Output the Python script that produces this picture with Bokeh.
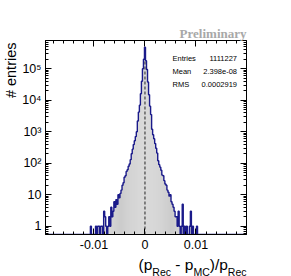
import numpy as np
from bokeh.plotting import figure
from bokeh.models import Range1d, LinearAxis, LogAxis, FixedTicker, Label, Title
from bokeh.layouts import row, column
from bokeh.embed import file_html
from bokeh.resources import INLINE

# ---------------- data ----------------
bin_lo = -0.0111          # lower edge of first bin
bin_width = 0.0002
counts = [
    # -0.0110 ... -0.0002
    0, 0, 1, 0, 0, 0, 0, 1, 0, 1,
    1, 0, 1, 1, 0, 3, 2, 1, 0, 1,
    2, 1, 4, 2, 3, 6, 4, 7, 5, 10,
    8, 11, 14, 20, 24, 36, 40, 55, 62, 80,
    95, 130, 200, 280, 390, 520, 700, 1000, 2200, 4200,
    7000, 16000, 40000, 100000, 200000,
    # 0
    480000,
    # 0.0002 ... 0.0104
    180000, 95000, 38000, 15000, 6500, 3500, 1200, 800, 600, 420,
    300, 210, 120, 90, 75, 60, 42, 40, 28, 22,
    20, 14, 12, 9, 10, 6, 5, 4, 3, 2,
    2, 1, 3, 1, 0, 1, 5, 0, 1, 0,
    1, 0, 0, 1, 3, 0, 1, 0, 0, 0,
    1, 0,
]
stats_names = ["Entries", "Mean", "RMS"]
stats_values = ["1111227", "2.398e-08", "0.0002919"]
x_major = [-0.01, 0, 0.01]
x_major_labels = ["-0.01", "0", "0.01"]
y_major = [1, 10, 100, 1000, 10000, 100000]
y_major_labels = ["1", "10", "10\u00b2", "10\u00b3", "10\u2074", "10\u2075"]
y_title = "# entries"
x_title_parts = [("(p", False), ("Rec", True), (" - p", False), ("MC", True), (")/p", False), ("Rec", True)]
mean_line_x = 0.0

# ---------------- layout constants ----------------
XMIN, XMAX = -0.0195, 0.0199
YMIN, YMAX = 0.545, 7.9e5
FONT = "Liberation Sans"
LINE_COL = "#1a1a8a"
FILL_COL = "#cccccc"
W_TOTAL, H_TOTAL = 291, 276
YT_W = 19          # width of y-title strip
XT_H = 22          # height of x-title strip
FL, FT, FR, FB = 43, 40, 246, 234   # frame edges in page pixels


def blank(w, h):
    f = figure(width=w, height=h, x_range=Range1d(0, 1), y_range=Range1d(0, 1),
               x_axis_location=None, y_axis_location=None, output_backend="svg",
               toolbar_location=None, min_border=0)
    f.xgrid.visible = False
    f.ygrid.visible = False
    f.outline_line_color = None
    f.background_fill_color = "white"
    f.border_fill_color = "white"
    return f


MAIN_W = W_TOTAL - YT_W
MAIN_H = H_TOTAL - XT_H
p = figure(width=MAIN_W, height=MAIN_H, x_range=Range1d(XMIN, XMAX), y_range=Range1d(YMIN, YMAX),
           y_axis_type="log", output_backend="svg", toolbar_location=None,
           min_border_left=FL - YT_W, min_border_right=W_TOTAL - FR,
           min_border_top=FT, min_border_bottom=MAIN_H - FB)
p.xgrid.visible = False
p.ygrid.visible = False
p.outline_line_color = "black"
p.outline_line_width = 1
p.background_fill_color = "white"
p.border_fill_color = "white"

# histogram
c = np.array(counts, dtype=float)
lefts = bin_lo + bin_width * np.arange(len(c))
rights = lefts + bin_width
tops = np.where(c > 0, c, YMIN)
p.quad(left=lefts, right=rights, bottom=YMIN, top=tops, fill_color=FILL_COL, line_color=None)

# mean dashed line
p.line([mean_line_x, mean_line_x], [YMIN, c.max()], line_color="#222222", line_width=1, line_dash="3 2")

# outline (step)
xs = np.concatenate([[XMIN, lefts[0]], np.ravel(np.column_stack([lefts, rights])), [rights[-1], XMAX]])
ys = np.concatenate([[YMIN, YMIN], np.repeat(tops, 2), [YMIN, YMIN]])
p.line(xs, ys, line_color=LINE_COL, line_width=1.4)

# axes
x_minor = [round(v, 4) for v in np.arange(-0.018, 0.0181, 0.002)]
y_minor = [m * 10.0 ** e for e in range(-1, 6) for m in range(2, 10)]
xt = FixedTicker(ticks=x_major, minor_ticks=x_minor)
yt = FixedTicker(ticks=y_major, minor_ticks=y_minor)


def style(ax, labels=True, tick=6, minor=3):
    ax.major_tick_in = tick
    ax.major_tick_out = 0
    ax.minor_tick_in = minor
    ax.minor_tick_out = 0
    ax.axis_line_color = "black"
    ax.major_tick_line_color = "black"
    ax.minor_tick_line_color = "black"
    if labels:
        ax.major_label_text_font = FONT
        ax.major_label_text_font_size = "12.5px"
        ax.major_label_text_color = "black"
    else:
        ax.major_label_text_font_size = "0px"
        ax.major_label_text_color = None
        ax.major_label_standoff = 0


xa = p.xaxis[0]
xa.ticker = xt
xa.major_label_overrides = {v: s for v, s in zip(x_major, x_major_labels)}
xa.major_label_standoff = 5
style(xa)

ya = p.yaxis[0]
ya.ticker = yt
ya.major_label_overrides = {v: s for v, s in zip(y_major, y_major_labels)}
ya.major_label_standoff = 4
style(ya)

top_ax = LinearAxis(ticker=xt)
style(top_ax, labels=False)
p.add_layout(top_ax, "above")
right_ax = LogAxis(ticker=yt)
style(right_ax, labels=False)
p.add_layout(right_ax, "right")

# "Preliminary" as a title above the frame, right aligned
p.title = Title(text="Preliminary", align="right", text_font="Liberation Serif",
                text_font_style="bold", text_font_size="13px", text_color="#a8a8a8",
                standoff=0, offset=0)

# stats (inside frame; screen units are frame-relative)
for i, (n, v) in enumerate(zip(stats_names, stats_values)):
    yb = 57.5 + 13 * i
    p.add_layout(Label(x=170 - FL, y=FB - yb, x_units="screen", y_units="screen", text=n,
                       text_align="left", text_baseline="alphabetic", text_font=FONT,
                       text_font_size="7.5px", text_color="black"))
    p.add_layout(Label(x=234.5 - FL, y=FB - yb, x_units="screen", y_units="screen", text=v,
                       text_align="right", text_baseline="alphabetic", text_font=FONT,
                       text_font_size="7.5px", text_color="black"))

# y title strip
yfig = blank(YT_W, H_TOTAL)
yfig.add_layout(Label(x=10.5, y=H_TOTAL - 42, x_units="screen", y_units="screen", text=y_title,
                      angle=np.pi / 2, text_align="right", text_baseline="middle",
                      text_font=FONT, text_font_size="14.5px", text_color="black"))

# x title strip with subscripts
xfig = blank(MAIN_W, XT_H)
try:
    xfig.frame_align = False
    p.frame_align = False
    x_origin = YT_W
except AttributeError:
    x_origin = FL
adv = {"(": 0.333, ")": 0.333, "p": 0.556, " ": 0.278, "-": 0.333, "/": 0.278,
       "R": 0.722, "e": 0.556, "c": 0.5, "M": 0.833, "C": 0.722}
MAIN, SUB = 15.5, 10.5
widths = [sum(adv[ch] for ch in t) * (SUB if s else MAIN) for t, s in x_title_parts]
xpos = 246 - sum(widths)
for (t, s), w in zip(x_title_parts, widths):
    size = SUB if s else MAIN
    base = 271 if s else 264
    lead = len(t) - len(t.lstrip(" "))
    xfig.add_layout(Label(x=xpos + lead * adv[" "] * size - x_origin, y=H_TOTAL - base,
                          x_units="screen", y_units="screen", text=t.strip(" "),
                          text_align="left", text_baseline="alphabetic", text_font=FONT,
                          text_font_size=f"{size}px", text_color="black"))
    xpos += w

layout = row(yfig, column(p, xfig, spacing=0), spacing=0)
open("out.html", "w").write(file_html(layout, INLINE))
